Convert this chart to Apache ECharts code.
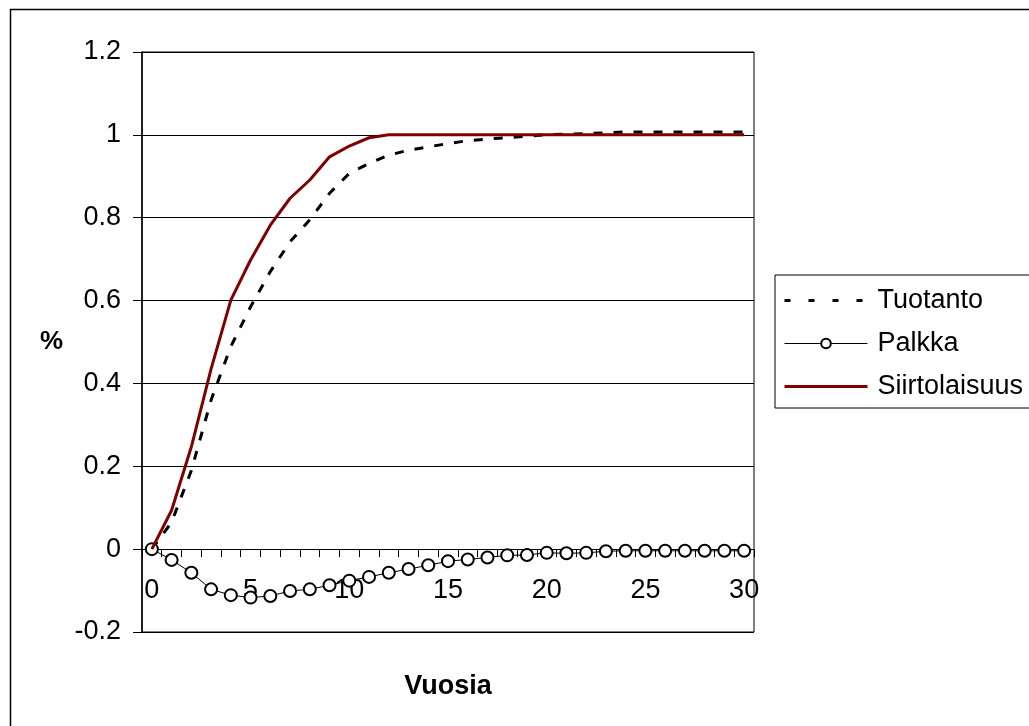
<!DOCTYPE html>
<html>
<head>
<meta charset="utf-8">
<script src="https://cdn.jsdelivr.net/npm/echarts@6/dist/echarts.min.js"></script>
<style>
html,body{margin:0;padding:0;background:#fff;}
#chart{width:1029px;height:726px;}
</style>
</head>
<body>
<div id="chart"></div>
<script>
var years = ['0','1','2','3','4','5','6','7','8','9','10','11','12','13','14','15','16','17','18','19','20','21','22','23','24','25','26','27','28','29','30'];
var tuotanto = [0, 0.065, 0.19, 0.36, 0.489, 0.585, 0.67, 0.742, 0.795, 0.859, 0.907, 0.931, 0.951, 0.963, 0.971, 0.979, 0.986, 0.990, 0.993, 0.997, 1.0, 1.002, 1.003, 1.005, 1.007, 1.007, 1.007, 1.007, 1.007, 1.007, 1.007];
var palkka = [0, -0.026, -0.057, -0.097, -0.111, -0.117, -0.113, -0.101, -0.097, -0.087, -0.076, -0.067, -0.057, -0.048, -0.039, -0.029, -0.025, -0.020, -0.015, -0.014, -0.009, -0.010, -0.009, -0.005, -0.004, -0.004, -0.004, -0.004, -0.004, -0.004, -0.004];
var siirtolaisuus = [0, 0.094, 0.247, 0.435, 0.601, 0.698, 0.782, 0.847, 0.891, 0.947, 0.973, 0.993, 1, 1, 1, 1, 1, 1, 1, 1, 1, 1, 1, 1, 1, 1, 1, 1, 1, 1, 1];
var seriesNames = ['Tuotanto', 'Palkka', 'Siirtolaisuus'];

var FONT = 'Liberation Sans';
var GRID_BOTTOM = 94;
var chart = echarts.init(document.getElementById('chart'));
chart.setOption({
  animation: false,
  backgroundColor: '#fff',
  textStyle: {fontFamily: FONT, color: '#000'},
  graphic: [{
    type: 'rect', left: 8, top: 7, z: -1,
    shape: {width: 1100, height: 800},
    style: {fill: 'none', stroke: '#000', lineWidth: 1.5}
  }],
  grid: {left: 142, right: 275, top: 52, bottom: GRID_BOTTOM, show: true, borderColor: '#000', borderWidth: 1,
         backgroundColor: '#fff', containLabel: false, outerBoundsMode: 'none'},
  legend: {
    orient: 'vertical', left: 775, top: 275,
    padding: [12, 30, 8, 8], itemGap: 16, itemWidth: 83, itemHeight: 12,
    borderColor: '#000', borderWidth: 1,
    textStyle: {fontSize: 27, color: '#000', fontFamily: FONT, padding: [0, 0, 0, 5]},
    data: [
      {name: seriesNames[0], itemStyle: {opacity: 0}, lineStyle: {width: 3, type: [6, 18], color: '#000'}},
      {name: seriesNames[1], lineStyle: {width: 1, color: '#000'}},
      {name: seriesNames[2], itemStyle: {opacity: 0}, lineStyle: {width: 3, color: '#800000'}}
    ]
  },
  xAxis: {
    type: 'category', data: years, boundaryGap: true,
    name: 'Vuosia', nameLocation: 'middle', nameGap: 124,
    nameTextStyle: {fontSize: 27, fontWeight: 'bold', color: '#000', fontFamily: FONT},
    axisLine: {onZero: false, lineStyle: {color: '#000', width: 1}},
    axisTick: {show: true, interval: 0, length: 8, lineStyle: {color: '#000'}},
    axisLabel: {interval: 4, fontSize: 27, color: '#000', margin: 28, fontFamily: FONT},
    splitLine: {show: false}
  },
  yAxis: {
    type: 'value', min: -0.2, max: 1.2, interval: 0.2,
    name: '%', nameLocation: 'middle', nameGap: 79, nameRotate: 0,
    nameTextStyle: {fontSize: 26, fontWeight: 'bold', color: '#000', fontFamily: FONT},
    axisLine: {show: true, lineStyle: {color: '#000', width: 1.5}},
    axisTick: {show: true, length: 9, lineStyle: {color: '#000'}},
    axisLabel: {fontSize: 27, color: '#000', margin: 21, fontFamily: FONT,
      formatter: function (v) { return String(Math.round(v * 10) / 10); }},
    splitLine: {show: true, lineStyle: {color: '#000', width: 1}}
  },
  series: [
    {name: seriesNames[0], type: 'line', data: tuotanto, symbol: 'none',
     lineStyle: {color: '#000', width: 3, type: [9, 11]}, itemStyle: {color: '#000'}, z: 2},
    {name: seriesNames[1], type: 'line', data: palkka, symbol: 'emptyCircle', symbolSize: 12,
     lineStyle: {color: '#000', width: 1}, itemStyle: {color: '#000', borderWidth: 1.5}, z: 3},
    {name: seriesNames[2], type: 'line', data: siirtolaisuus, symbol: 'none',
     lineStyle: {color: '#800000', width: 3}, itemStyle: {color: '#800000'}, z: 4}
  ]
});
// place the category axis on the y = 0 line, using the y scale of the chart
var yZero = chart.convertToPixel({yAxisIndex: 0}, 0);
var gridBottomPx = chart.getHeight() - GRID_BOTTOM;
chart.setOption({xAxis: {offset: yZero - gridBottomPx}});
</script>
</body>
</html>
